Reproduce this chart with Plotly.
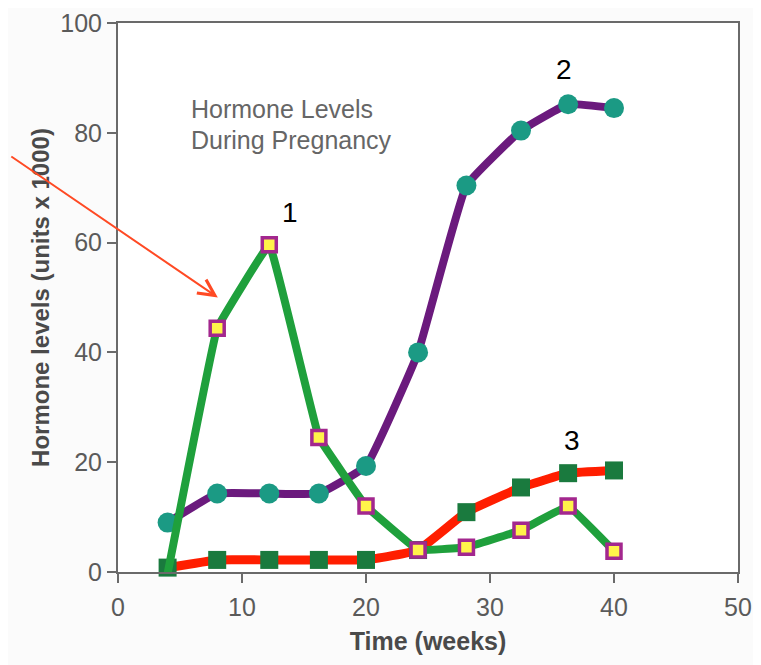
import plotly.graph_objects as go

# ---- data ----
weeks = [4, 8, 12.2, 16.2, 20, 24.2, 28.1, 32.5, 36.3, 40]
hormone_1 = [-0.3, 44.4, 59.6, 24.5, 12.0, 4.0, 4.5, 7.6, 12.0, 3.8]     # green line, yellow squares
hormone_2 = [9.0, 14.3, 14.3, 14.3, 19.3, 40.0, 70.4, 80.4, 85.2, 84.5]  # purple line, teal circles
hormone_3 = [0.8, 2.2, 2.2, 2.2, 2.2, 4.0, 10.9, 15.4, 18.0, 18.5]       # red line, dark green squares

x_ticks = [0, 10, 20, 30, 40, 50]
y_ticks = [0, 20, 40, 60, 80, 100]

chart_title_lines = ["Hormone Levels", "During Pregnancy"]
title_line_y = [84.4, 78.6]
curve_labels = ["1", "2", "3"]
label_pos = [(13.9, 65.5), (36.0, 91.5), (36.6, 24.0)]

FONT = "Liberation Sans, Arial, sans-serif"
GRAY = "#5a5a5a"

fig = go.Figure()

fig.add_trace(go.Scatter(
    x=weeks, y=hormone_2, mode="lines+markers",
    line=dict(color="#6b1a7d", width=8, shape="spline", smoothing=0.3),
    marker=dict(symbol="circle", size=20, color="#1b9a84", line=dict(width=0)),
    showlegend=False, cliponaxis=False))

fig.add_trace(go.Scatter(
    x=weeks, y=hormone_3, mode="lines+markers",
    line=dict(color="#ff1e00", width=9, shape="spline", smoothing=0.3),
    marker=dict(symbol="square", size=18, color="#1a7a3e", line=dict(width=0)),
    showlegend=False, cliponaxis=False))

fig.add_trace(go.Scatter(
    x=weeks, y=hormone_1, mode="lines+markers",
    line=dict(color="#1fa03c", width=8, shape="spline", smoothing=0.15),
    marker=dict(symbol="square", size=14, color="#fff34a",
                line=dict(color="#a3278e", width=3.5)),
    showlegend=False, cliponaxis=False))

# chart caption inside plot
for line_text, ly in zip(chart_title_lines, title_line_y):
    fig.add_annotation(x=5.75, y=ly, xref="x", yref="y", xanchor="left", yanchor="middle",
                       text=line_text, showarrow=False, align="left",
                       font=dict(family=FONT, size=25, color="#666666"))

for lab, (lx, ly) in zip(curve_labels, label_pos):
    fig.add_annotation(x=lx, y=ly, xref="x", yref="y", text=lab, showarrow=False,
                       font=dict(family=FONT, size=28, color="#000000"))

# red arrow
fig.add_annotation(x=8.05, y=50.0, xref="x", yref="y", ax=-208, ay=-142,
                   axref="pixel", ayref="pixel", text="", showarrow=True,
                   arrowhead=5, arrowsize=1.6, arrowwidth=2, arrowcolor="#ff4a24")

fig.update_layout(
    width=761, height=665,
    margin=dict(l=110, r=31, t=15, b=101, autoexpand=False),
    paper_bgcolor="#fbfbfb", plot_bgcolor="#ffffff",
    font=dict(family=FONT, color=GRAY),
    xaxis=dict(range=[0, 50], tickvals=x_ticks, ticks="outside", ticklen=9, tickwidth=2,
               tickcolor="#6a6a6a", showline=True, linecolor="#6a6a6a", linewidth=2,
               mirror=True, showgrid=False, zeroline=False, automargin=False,
               ticklabelstandoff=3,
               tickfont=dict(family=FONT, size=25, color=GRAY),
               title=dict(text="<b>Time (weeks)</b>", standoff=12,
                          font=dict(family=FONT, size=25, color="#4a4a4a"))),
    yaxis=dict(range=[0, 100], tickvals=y_ticks, ticks="outside", ticklen=9, tickwidth=2,
               tickcolor="#6a6a6a", showline=True, linecolor="#6a6a6a", linewidth=2,
               mirror=True, showgrid=False, zeroline=False, automargin=False,
               tickfont=dict(family=FONT, size=25, color=GRAY),
               title=dict(text="<b>Hormone levels (units x 1000)</b>", standoff=4,
                          font=dict(family=FONT, size=24, color="#4a4a4a"))),
)

fig.write_html("out.html")
